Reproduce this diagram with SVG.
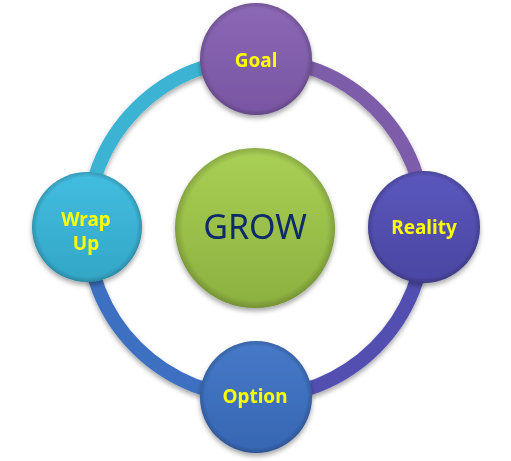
<svg xmlns="http://www.w3.org/2000/svg" width="511" height="461" viewBox="0 0 511 461">
  <defs>
    <filter id="shadow" x="-20%" y="-20%" width="140%" height="150%">
      <feGaussianBlur in="SourceAlpha" stdDeviation="2.5"/>
      <feOffset dx="0" dy="3" result="b"/>
      <feComponentTransfer><feFuncA type="linear" slope="0.35"/></feComponentTransfer>
      <feMerge><feMergeNode/><feMergeNode in="SourceGraphic"/></feMerge>
    </filter>
    <linearGradient id="gGoal" x1="0" y1="0" x2="0" y2="1">
      <stop offset="0" stop-color="#8c68b6"/><stop offset="1" stop-color="#7855a2"/>
    </linearGradient>
    <linearGradient id="gReal" x1="0" y1="0" x2="0" y2="1">
      <stop offset="0" stop-color="#5b57bc"/><stop offset="1" stop-color="#4a46a2"/>
    </linearGradient>
    <linearGradient id="gWrap" x1="0" y1="0" x2="0" y2="1">
      <stop offset="0" stop-color="#42bde0"/><stop offset="1" stop-color="#33a6c6"/>
    </linearGradient>
    <linearGradient id="gOpt" x1="0" y1="0" x2="0" y2="1">
      <stop offset="0" stop-color="#457ac9"/><stop offset="1" stop-color="#3766b2"/>
    </linearGradient>
    <linearGradient id="gGrow" x1="0" y1="0" x2="0" y2="1">
      <stop offset="0" stop-color="#a9d055"/><stop offset="1" stop-color="#8cb03f"/>
    </linearGradient>
    <radialGradient id="bevel" cx="0.5" cy="0.5" r="0.5">
      <stop offset="0.9" stop-color="#000" stop-opacity="0"/>
      <stop offset="1" stop-color="#000" stop-opacity="0.18"/>
    </radialGradient>
  </defs>
  <style>
    .arc { fill: none; stroke-width: 14; stroke-linecap: butt; }
    .lbl { font-family: "Noto Sans", "Open Sans", sans-serif; font-weight: bold; font-size: 19px; fill: #ffff00; text-anchor: middle; }
    .big { font-family: "Noto Sans", "Open Sans", sans-serif; font-size: 34px; fill: #0d2a6b; text-anchor: middle; }
    .edge { fill: url(#bevel); }
  </style>
  <g id="connectors" filter="url(#shadow)">
    <path class="arc" stroke="#3cb3d4" d="M 87 228 A 169 169 0 0 1 256 59"/>
    <path class="arc" stroke="#7d5caa" d="M 256 59 A 169 169 0 0 1 425 228"/>
    <path class="arc" stroke="#5250b0" d="M 425 228 A 169 169 0 0 1 256 397"/>
    <path class="arc" stroke="#3d6fc0" d="M 256 397 A 169 169 0 0 1 87 228"/>
  </g>
  <g id="grow" filter="url(#shadow)">
    <circle cx="255" cy="228" r="80" fill="url(#gGrow)"/>
    <circle class="edge" cx="255" cy="228" r="80"/>
    <text class="big" x="255" y="239">GROW</text>
  </g>
  <g id="goal" filter="url(#shadow)">
    <circle cx="256" cy="59" r="56" fill="url(#gGoal)"/>
    <circle class="edge" cx="256" cy="59" r="56"/>
    <text class="lbl" x="256" y="67">Goal</text>
  </g>
  <g id="reality" filter="url(#shadow)">
    <circle cx="424" cy="227" r="56" fill="url(#gReal)"/>
    <circle class="edge" cx="424" cy="227" r="56"/>
    <text class="lbl" x="424" y="234">Reality</text>
  </g>
  <g id="option" filter="url(#shadow)">
    <circle cx="256" cy="397" r="56" fill="url(#gOpt)"/>
    <circle class="edge" cx="256" cy="397" r="56"/>
    <text class="lbl" x="255" y="403">Option</text>
  </g>
  <g id="wrapup" filter="url(#shadow)">
    <circle cx="87" cy="227" r="55" fill="url(#gWrap)"/>
    <circle class="edge" cx="87" cy="227" r="55"/>
    <text class="lbl" x="86" y="226">Wrap</text>
    <text class="lbl" x="86" y="250">Up</text>
  </g>
</svg>
